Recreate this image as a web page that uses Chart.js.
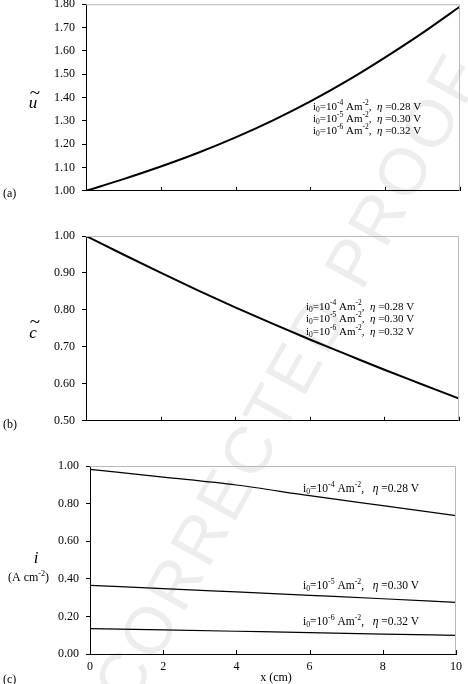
<!DOCTYPE html>
<html>
<head>
<meta charset="utf-8">
<script src="https://cdn.jsdelivr.net/npm/chart.js@4.4.1/dist/chart.umd.min.js"></script>
<style>
  html, body { margin: 0; padding: 0; background: #fff; }
  #wrap { position: relative; width: 468px; height: 684px; overflow: hidden; }
  canvas { position: absolute; left: 0; }
  #mark {
    position: absolute; left: 288px; top: 378px;
    transform: translate(-50%, -50%) rotate(-61deg);
    font: 66px "Liberation Sans", sans-serif; color: #ededed;
    white-space: nowrap; letter-spacing: 4px;
  }
</style>
</head>
<body>
<div id="wrap">
  <div id="mark">CORRECTED PROOF</div>
  <canvas id="chartA" width="468" height="215" style="top:-10px"></canvas>
  <canvas id="chartB" width="468" height="220" style="top:215px"></canvas>
  <canvas id="chartC" width="468" height="244" style="top:440px"></canvas>
</div>
<script>
// x positions (cm)
const xDense = [0, 1, 2, 3, 4, 5, 6, 7, 8, 9, 10];
const xCoarse = [0, 2, 4, 6, 8, 10];

// (a) dimensionless velocity u~
const uValues = [1.000, 1.050, 1.104, 1.163, 1.229, 1.302, 1.383, 1.473, 1.572, 1.677, 1.790];
// (b) dimensionless concentration c~
const cValues = [1.000, 0.950, 0.901, 0.853, 0.807, 0.763, 0.720, 0.679, 0.638, 0.599, 0.560];
// (c) current density, one series per exchange current density
const iHigh = [0.982, 0.941, 0.899, 0.842, 0.789, 0.736];
const iMid = [0.365, 0.348, 0.330, 0.312, 0.294, 0.275];
const iLow = [0.135, 0.128, 0.121, 0.114, 0.106, 0.099];

const i0Exponents = ['-4', '-5', '-6'];
const etaValues = ['0.28', '0.30', '0.32'];

const SERIF = "'Liberation Serif', 'Times New Roman', serif";

function drawRich(ctx, x, y, parts, size) {
  let cx = x;
  parts.forEach(([t, kind]) => {
    let fs = size, dy = 0, style = '';
    if (kind === 'sub') { fs = size * 0.68; dy = size * 0.28; }
    if (kind === 'sup') { fs = size * 0.68; dy = -size * 0.38; }
    if (kind === 'it') style = 'italic ';
    ctx.font = style + fs + 'px ' + SERIF;
    ctx.fillText(t, cx, y + dy);
    cx += ctx.measureText(t).width;
  });
}

function legendParts(i, gap) {
  return [['i'], ['0', 'sub'], ['=10'], [i0Exponents[i], 'sup'], [' Am'], ['-2', 'sup'],
          [',' + gap], ['\u03b7', 'it'], [' =' + etaValues[i] + ' V']];
}

// decorations: grey top/right frame, inward x ticks, annotations
function deco(top, draw) {
  return {
    id: 'deco',
    afterDraw(chart) {
      const ctx = chart.ctx;
      const a = chart.chartArea;
      const xs = chart.scales.x;
      ctx.save();
      ctx.strokeStyle = '#b8b8b8';
      ctx.lineWidth = 1;
      ctx.beginPath();
      ctx.moveTo(a.left, a.top + 0.5);
      ctx.lineTo(a.right - 0.5, a.top + 0.5);
      ctx.lineTo(a.right - 0.5, a.bottom);
      ctx.stroke();
      ctx.strokeStyle = '#000';
      ctx.beginPath();
      xCoarse.slice(1).forEach(v => {
        const px = Math.round(xs.getPixelForValue(v)) + 0.5;
        ctx.moveTo(px, a.bottom);
        ctx.lineTo(px, a.bottom - 4);
      });
      ctx.stroke();
      ctx.translate(0, -top);
      ctx.fillStyle = '#000';
      ctx.textBaseline = 'middle';
      ctx.textAlign = 'left';
      draw(ctx);
      ctx.restore();
    }
  };
}

function yScale(min, max, step, width) {
  return {
    min: min, max: max,
    ticks: { stepSize: step, color: '#000', padding: 7,
             font: { family: SERIF, size: 12 },
             callback: v => v.toFixed(2) },
    grid: { drawOnChartArea: false, drawTicks: true, tickLength: 4, color: '#000' },
    border: { color: '#000', width: 1 },
    afterFit: s => { s.width = width; }
  };
}

function xScale(height, showLabels) {
  return {
    type: 'linear', min: 0, max: 10,
    ticks: { stepSize: 2, display: showLabels, color: '#000', padding: 6,
             font: { family: SERIF, size: 12 } },
    grid: { display: true, drawOnChartArea: false, drawTicks: false },
    border: { color: '#000', width: 1 },
    afterFit: s => { s.height = height; }
  };
}

function lineSet(xv, yv, width) {
  return {
    data: xv.map((x, k) => ({ x: x, y: yv[k] })),
    borderColor: '#000', borderWidth: width, pointRadius: 0,
    cubicInterpolationMode: 'monotone', fill: false
  };
}

const common = {
  responsive: false, animation: false, devicePixelRatio: 1,
  plugins: { legend: { display: false }, tooltip: { enabled: false } }
};

// (a)
new Chart(document.getElementById('chartA'), {
  type: 'line',
  data: { datasets: [lineSet(xDense, uValues, 2)] },
  options: Object.assign({}, common, {
    layout: { padding: { top: 13, right: 8, bottom: 0, left: 0 } },
    scales: { x: xScale(14, false), y: yScale(1.0, 1.8, 0.1, 86) }
  }),
  plugins: [deco(-10, ctx => {
    ctx.font = '12px ' + SERIF;
    ctx.fillText('(a)', 3, 194);
    ctx.font = 'italic 17px ' + SERIF;
    ctx.textAlign = 'center';
    ctx.fillText('u', 33, 104);
    ctx.font = '19px ' + SERIF;
    ctx.fillText('~', 35, 94);
    ctx.textAlign = 'left';
    [107, 119, 131].forEach((y, i) => drawRich(ctx, 313, y, legendParts(i, '  '), 11));
  })]
});

// (b)
new Chart(document.getElementById('chartB'), {
  type: 'line',
  data: { datasets: [lineSet(xDense, cValues, 2)] },
  options: Object.assign({}, common, {
    layout: { padding: { top: 21, right: 9, bottom: 0, left: 0 } },
    scales: { x: xScale(11.7, false), y: yScale(0.5, 1.0, 0.1, 86) }
  }),
  plugins: [deco(215, ctx => {
    ctx.font = '12px ' + SERIF;
    ctx.fillText('(b)', 3, 425);
    ctx.font = 'italic 17px ' + SERIF;
    ctx.textAlign = 'center';
    ctx.fillText('c', 33, 334);
    ctx.font = '19px ' + SERIF;
    ctx.fillText('~', 35, 323);
    ctx.textAlign = 'left';
    [307, 319, 332].forEach((y, i) => drawRich(ctx, 306, y, legendParts(i, '  '), 11));
  })]
});

// (c)
new Chart(document.getElementById('chartC'), {
  type: 'line',
  data: { datasets: [lineSet(xCoarse, iHigh, 1.2), lineSet(xCoarse, iMid, 1.2), lineSet(xCoarse, iLow, 1.2)] },
  options: Object.assign({}, common, {
    layout: { padding: { top: 26, right: 5, bottom: 0, left: 0 } },
    scales: { x: xScale(30, true), y: yScale(0, 1.0, 0.2, 90) }
  }),
  plugins: [deco(440, ctx => {
    ctx.font = '12px ' + SERIF;
    ctx.fillText('(c)', 3, 680);
    ctx.textAlign = 'center';
    ctx.fillText('x (cm)', 276, 678);
    ctx.font = 'italic 17px ' + SERIF;
    ctx.fillText('i', 36, 559);
    ctx.textAlign = 'left';
    drawRich(ctx, 8, 578, [['(A cm'], ['-2', 'sup'], [')']], 12);
    [489, 586, 622].forEach((y, i) => drawRich(ctx, 303, y, legendParts(i, '   '), 11.5));
  })]
});
</script>
</body>
</html>
